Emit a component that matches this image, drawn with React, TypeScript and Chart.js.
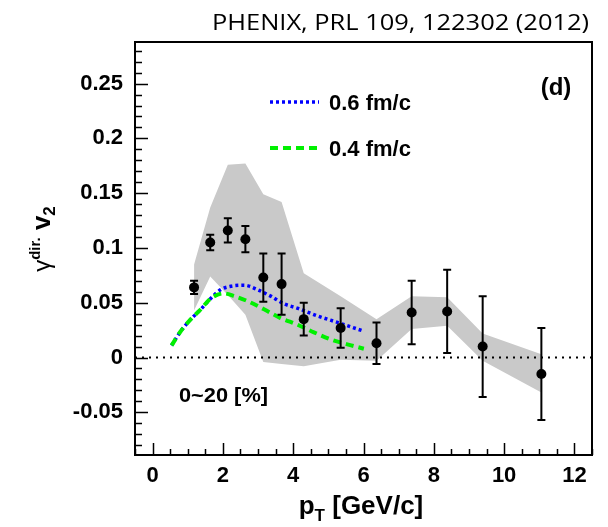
import React, { useEffect, useRef } from "react";
import { Chart, registerables } from "chart.js";

Chart.register(...registerables);

// ---- data ----
const ptValues = [1.18, 1.64, 2.14, 2.64, 3.15, 3.67, 4.3, 5.35, 6.37, 7.37, 8.38, 9.39, 11.06];
const v2Values = [0.064, 0.105, 0.116, 0.108, 0.073, 0.067, 0.035, 0.027, 0.013, 0.041, 0.042, 0.01, -0.015];
const statErrors = [0.006, 0.007, 0.011, 0.012, 0.022, 0.028, 0.015, 0.018, 0.019, 0.029, 0.038, 0.046, 0.042];
const sysUpper = [0.085, 0.137, 0.176, 0.177, 0.149, 0.142, 0.077, 0.056, 0.035, 0.056, 0.055, 0.022, 0.003];
const sysLower = [0.043, 0.074, 0.057, 0.039, -0.004, -0.006, -0.008, -0.002, -0.003, 0.026, 0.029, -0.003, -0.032];

const blueX = [0.54, 0.8, 1.09, 1.37, 1.66, 1.94, 2.22, 2.6, 2.98, 3.36, 3.74, 4.12, 4.69, 5.26, 6.01];
const blueY = [0.011, 0.024, 0.035, 0.044, 0.054, 0.062, 0.065, 0.066, 0.062, 0.056, 0.049, 0.045, 0.038, 0.032, 0.024];
const greenX = [0.54, 0.8, 1.09, 1.37, 1.66, 2.03, 2.32, 2.7, 3.17, 3.64, 4.12, 4.59, 5.07, 5.54, 6.01];
const greenY = [0.011, 0.024, 0.035, 0.044, 0.054, 0.0585, 0.056, 0.0515, 0.044, 0.036, 0.03, 0.023, 0.0165, 0.012, 0.008];

const xTicks = [0, 2, 4, 6, 8, 10, 12];
const xTickLabels = ["0", "2", "4", "6", "8", "10", "12"];
const yTicks = [-0.05, 0, 0.05, 0.1, 0.15, 0.2, 0.25];
const yTickLabels = ["-0.05", "0", "0.05", "0.1", "0.15", "0.2", "0.25"];
const xMinorStep = 0.5;
const yMinorStep = 0.01;

const legendLabels = ["0.6 fm/c", "0.4 fm/c"];
const titleText = "PHENIX, PRL 109, 122302 (2012)";
const panelLabel = "(d)";
const centralityLabel = "0~20 [%]";

const FONT = '"Liberation Sans", Arial, Helvetica, sans-serif';
const BLUE = "#0000ff";
const GREEN = "#00f000";
const BLUE_DASH = [3, 3];
const GREEN_DASH = [8, 5];
const POINTS_INDEX = 5;

function pts(xs: number[], ys: number[]) {
  return xs.map((x, i) => ({ x, y: ys[i] }));
}

function drawRich(c: CanvasRenderingContext2D, parts: { t: string; f: string; dy: number }[], cx: number, cy: number) {
  let total = 0;
  for (const p of parts) {
    c.font = p.f;
    total += c.measureText(p.t).width;
  }
  let x = cx - total / 2;
  for (const p of parts) {
    c.font = p.f;
    c.fillText(p.t, x, cy + p.dy);
    x += c.measureText(p.t).width;
  }
}

function fitText(c: CanvasRenderingContext2D, text: string, x0: number, x1: number, baseline: number) {
  const w = c.measureText(text).width;
  const sx = (x1 - x0) / w;
  c.save();
  c.translate(x0, baseline);
  c.scale(sx, 1);
  c.textAlign = "left";
  c.fillText(text, 0, 0);
  c.restore();
}

const decor = {
  id: "decor",
  beforeDatasetDraw(chart: any, args: any) {
    if (args.index !== POINTS_INDEX) return;
    const xs = chart.scales.x;
    const ys = chart.scales.y;
    const c: CanvasRenderingContext2D = chart.ctx;
    c.save();
    c.strokeStyle = "#000";
    c.lineWidth = 2;
    ptValues.forEach((pt, i) => {
      const px = xs.getPixelForValue(pt);
      const yt = ys.getPixelForValue(v2Values[i] + statErrors[i]);
      const yb = ys.getPixelForValue(v2Values[i] - statErrors[i]);
      c.beginPath();
      c.moveTo(px, yt);
      c.lineTo(px, yb);
      c.moveTo(px - 4, yt);
      c.lineTo(px + 4, yt);
      c.moveTo(px - 4, yb);
      c.lineTo(px + 4, yb);
      c.stroke();
    });
    c.restore();
  },
  afterDraw(chart: any) {
    const c: CanvasRenderingContext2D = chart.ctx;
    const { left, right, top, bottom } = chart.chartArea;
    const xs = chart.scales.x;
    const ys = chart.scales.y;
    c.save();
    // frame
    c.strokeStyle = "#000";
    c.lineWidth = 2;
    c.strokeRect(left, top, right - left, bottom - top);
    // ticks (inward)
    c.lineWidth = 1.5;
    c.beginPath();
    for (let k = Math.ceil(xs.min / xMinorStep); k * xMinorStep <= xs.max + 1e-9; k++) {
      const v = k * xMinorStep;
      const px = Math.round(xs.getPixelForValue(v)) + 0.5;
      const major = xTicks.some((t) => Math.abs(t - v) < 1e-9);
      c.moveTo(px, bottom);
      c.lineTo(px, bottom - (major ? 12 : 6));
    }
    for (let k = Math.ceil(ys.min / yMinorStep); k * yMinorStep <= ys.max + 1e-9; k++) {
      const v = k * yMinorStep;
      const py = Math.round(ys.getPixelForValue(v)) + 0.5;
      const major = yTicks.some((t) => Math.abs(t - v) < 1e-9);
      c.moveTo(left, py);
      c.lineTo(left + (major ? 13 : 7), py);
    }
    c.stroke();

    // title
    c.fillStyle = "#000";
    c.font = `22px "Open Sans", Lato, sans-serif`;
    c.textBaseline = "alphabetic";
    fitText(c, titleText, 212, 589, 30);

    // panel label
    c.font = `bold 24px ${FONT}`;
    c.textAlign = "center";
    c.textBaseline = "middle";
    c.fillText(panelLabel, 556, 88);

    // centrality
    c.font = `bold 21px ${FONT}`;
    c.textBaseline = "middle";
    fitText(c, centralityLabel, 179, 268, 396);

    // legend
    const legendY = [102, 148];
    const colors = [BLUE, GREEN];
    const dashes = [BLUE_DASH, GREEN_DASH];
    const widths = [3.5, 4];
    for (let i = 0; i < 2; i++) {
      c.save();
      c.strokeStyle = colors[i];
      c.lineWidth = widths[i];
      c.setLineDash(dashes[i]);
      c.beginPath();
      c.moveTo(270, legendY[i]);
      c.lineTo(319, legendY[i]);
      c.stroke();
      c.restore();
      c.font = `bold 22px ${FONT}`;
      c.textAlign = "left";
      c.textBaseline = "middle";
      c.fillText(legendLabels[i], 329, legendY[i] + 2);
    }

    // x title
    c.textAlign = "left";
    c.textBaseline = "alphabetic";
    drawRich(
      c,
      [
        { t: "p", f: `bold 26px ${FONT}`, dy: 0 },
        { t: "T", f: `bold 17px ${FONT}`, dy: 7 },
        { t: " [GeV/c]", f: `bold 26px ${FONT}`, dy: 0 },
      ],
      361,
      514
    );

    // y title
    c.save();
    c.translate(50, 239);
    c.rotate(-Math.PI / 2);
    drawRich(
      c,
      [
        { t: "γ", f: `24px ${FONT}`, dy: 0 },
        { t: "dir.", f: `bold 15px ${FONT}`, dy: -10 },
        { t: " v", f: `bold 26px ${FONT}`, dy: 0 },
        { t: "2", f: `bold 17px ${FONT}`, dy: 5 },
      ],
      0,
      0
    );
    c.restore();
    c.restore();
  },
};

export default function App() {
  const ref = useRef<HTMLCanvasElement>(null);
  useEffect(() => {
    const canvas = ref.current!;
    const tickFont = { family: FONT, size: 22, weight: "bold" as const };
    const chart = new Chart(canvas, {
      type: "scatter",
      data: {
        datasets: [
          {
            data: pts(ptValues, sysUpper),
            showLine: true,
            fill: "+1",
            backgroundColor: "#c9c9c9",
            borderColor: "rgba(0,0,0,0)",
            borderWidth: 0,
            pointRadius: 0,
            order: 10,
          } as any,
          {
            data: pts(ptValues, sysLower),
            showLine: true,
            borderColor: "rgba(0,0,0,0)",
            borderWidth: 0,
            pointRadius: 0,
            order: 9,
          },
          {
            data: [
              { x: -0.5, y: 0 },
              { x: 12.5, y: 0 },
            ],
            showLine: true,
            borderColor: "#000",
            borderWidth: 2,
            borderDash: [2, 5],
            pointRadius: 0,
            order: 8,
          },
          {
            data: pts(blueX, blueY),
            showLine: true,
            borderColor: BLUE,
            borderWidth: 3.5,
            borderDash: BLUE_DASH,
            pointRadius: 0,
            cubicInterpolationMode: "monotone",
            order: 7,
          },
          {
            data: pts(greenX, greenY),
            showLine: true,
            borderColor: GREEN,
            borderWidth: 4,
            borderDash: GREEN_DASH,
            pointRadius: 0,
            cubicInterpolationMode: "monotone",
            order: 6,
          },
          {
            data: pts(ptValues, v2Values),
            showLine: false,
            pointRadius: 5,
            pointBackgroundColor: "#000",
            pointBorderColor: "#000",
            pointBorderWidth: 0,
            order: 1,
          },
        ],
      },
      options: {
        animation: false,
        responsive: false,
        events: [],
        layout: { padding: { top: 42, right: 16, left: 0, bottom: 0 } },
        plugins: { legend: { display: false }, tooltip: { enabled: false } },
        scales: {
          x: {
            type: "linear",
            min: -0.5,
            max: 12.5,
            grid: { display: false, drawTicks: false },
            border: { display: false },
            ticks: {
              font: tickFont,
              color: "#000",
              padding: 8,
              maxRotation: 0,
              autoSkip: false,
              callback: (v: any) => {
                const i = xTicks.findIndex((t) => Math.abs(t - v) < 1e-9);
                return i >= 0 ? xTickLabels[i] : "";
              },
            },
            afterBuildTicks: (s: any) => {
              s.ticks = xTicks.map((value) => ({ value }));
            },
            afterFit: (s: any) => {
              s.height = 72;
            },
          },
          y: {
            type: "linear",
            min: -0.089,
            max: 0.288,
            grid: { display: false, drawTicks: false },
            border: { display: false },
            ticks: {
              font: tickFont,
              color: "#000",
              padding: 12,
              autoSkip: false,
              callback: (v: any) => {
                const i = yTicks.findIndex((t) => Math.abs(t - v) < 1e-9);
                return i >= 0 ? yTickLabels[i] : "";
              },
            },
            afterBuildTicks: (s: any) => {
              s.ticks = yTicks.map((value) => ({ value }));
            },
            afterFit: (s: any) => {
              s.width = 135;
            },
          },
        },
      },
      plugins: [decor],
    });
    return () => chart.destroy();
  }, []);
  return (
    <div style={{ position: "fixed", left: 0, top: 0, width: 608, height: 527, background: "#fff" }}>
      <canvas ref={ref} width={608} height={527} style={{ width: 608, height: 527, display: "block" }} />
    </div>
  );
}
